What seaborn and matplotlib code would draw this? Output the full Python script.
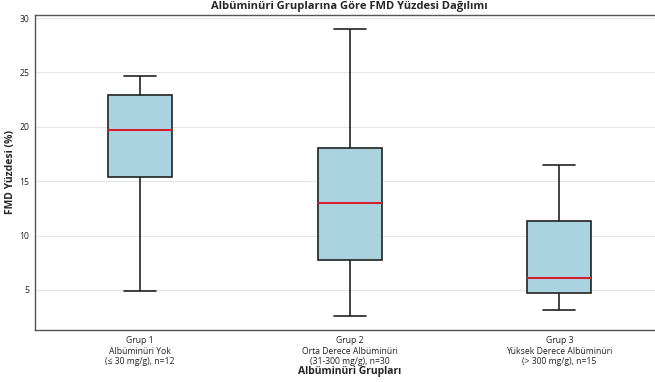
import numpy as np
import pandas as pd
import matplotlib
matplotlib.use("Agg")
import matplotlib.pyplot as plt
import seaborn as sns

groups = [
    "Grup 1\nAlbüminüri Yok\n(≤ 30 mg/g), n=12",
    "Grup 2\nOrta Derece Albüminüri\n(31-300 mg/g), n=30",
    "Grup 3\nYüksek Derece Albüminüri\n(> 300 mg/g), n=15",
]
# five-number summaries (min, Q1, median, Q3, max)
grup1 = [4.9, 15.4, 19.7, 22.9, 24.7]
grup2 = [2.6, 7.7, 13.0, 18.05, 29.0]
grup3 = [3.15, 4.7, 6.1, 11.3, 16.5]

df = pd.DataFrame({
    "grup": [groups[0]] * len(grup1) + [groups[1]] * len(grup2) + [groups[2]] * len(grup3),
    "fmd": grup1 + grup2 + grup3,
})

sns.set_style("white")
plt.rcParams["font.family"] = ["Open Sans", "DejaVu Sans"]

fig, ax = plt.subplots(figsize=(6.55, 3.82), dpi=100)
fig.subplots_adjust(left=0.054, right=1.014, top=0.961, bottom=0.136)

sns.boxplot(
    data=df, x="grup", y="fmd", order=groups, ax=ax, width=0.305,
    color="#A9D4DF", saturation=1, whis=1.5,
    boxprops=dict(edgecolor="#222222", linewidth=1.2),
    whiskerprops=dict(color="#222222", linewidth=1.2),
    capprops=dict(color="#222222", linewidth=1.2),
    medianprops=dict(color="#d41f2e", linewidth=1.5),
    showfliers=False,
)

ax.set_ylim(1.3, 30.3)
ax.yaxis.grid(True, color="#e6e6e6", linewidth=0.8)
ax.set_axisbelow(True)
for s in ax.spines.values():
    s.set_color("#555555")
    s.set_linewidth(1.0)
ax.tick_params(axis="both", labelsize=6.2, length=2.5, width=0.8, colors="#222222", pad=2)
ax.set_xlabel("Albüminüri Grupları", fontsize=7.5, fontweight="bold", labelpad=0)
ax.set_ylabel("FMD Yüzdesi (%)", fontsize=7.5, fontweight="bold", labelpad=2)
ax.set_title("Albüminüri Gruplarına Göre FMD Yüzdesi Dağılımı", fontsize=8.0, fontweight="bold", pad=4)

fig.savefig("out.png", dpi=100)
